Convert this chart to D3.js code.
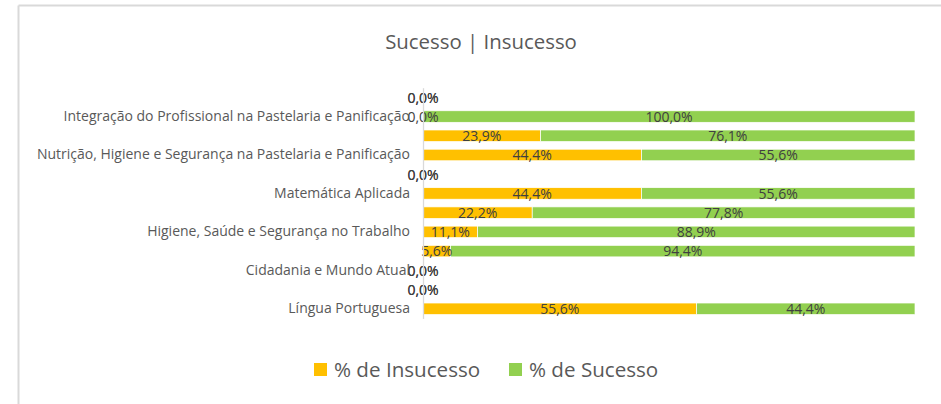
<!DOCTYPE html>
<html>
<head>
<meta charset="utf-8">
<script src="https://cdn.jsdelivr.net/npm/d3@7"></script>
<style>
  html, body { margin: 0; padding: 0; background: #fff; }
  svg { display: block; font-family: "Open Sans", sans-serif; }
</style>
</head>
<body>
<svg id="chart" width="941" height="404"></svg>
<script>
// Rows listed top to bottom; only every other category name is printed on the axis.
const rowLabels = [
  "",
  "Integração do Profissional na Pastelaria e Panificação",
  "",
  "Nutrição, Higiene e Segurança na Pastelaria e Panificação",
  "",
  "Matemática Aplicada",
  "",
  "Higiene, Saúde e Segurança no Trabalho",
  "",
  "Cidadania e Mundo Atual",
  "",
  "Língua Portuguesa"
];
const insucesso = [0, 0, 23.9, 44.4, 0, 44.4, 22.2, 11.1, 5.6, 0, 0, 55.6];
const sucesso   = [0, 100, 76.1, 55.6, 0, 55.6, 77.8, 88.9, 94.4, 0, 0, 44.4];
const seriesNames = ["% de Insucesso", "% de Sucesso"];
const seriesColors = ["#FFC000", "#92D050"];
const title = "Sucesso | Insucesso";

const svg = d3.select("#chart");
const W = 941, H = 404;

// outer frame (top and left edges visible)
svg.append("line").attr("x1", 18.5).attr("x2", W).attr("y1", 5.5).attr("y2", 5.5)
  .attr("stroke", "#d9d9d9").attr("stroke-width", 2);
svg.append("line").attr("x1", 18.5).attr("x2", 18.5).attr("y1", 5.5).attr("y2", H)
  .attr("stroke", "#d9d9d9").attr("stroke-width", 2);

svg.append("text").attr("x", 481).attr("y", 49).attr("text-anchor", "middle")
  .attr("fill", "#595959").attr("font-size", 20.4).text(title);

const plot = { left: 423, right: 915, top: 87.7, bottom: 318.4 };
const idx = d3.range(rowLabels.length);
const y = d3.scaleBand().domain(idx).range([plot.top, plot.bottom]).paddingInner(0.4).paddingOuter(0.2);
const x = d3.scaleLinear().domain([0, 100]).range([plot.left, plot.right]);

const fmt = v => d3.format(".1f")(v).replace(".", ",") + "%";

const stackData = idx.map(i => ({ i, a: insucesso[i], b: sucesso[i] }));
const stacked = d3.stack().keys(["a", "b"])(stackData);

const g = svg.append("g");
stacked.forEach((layer, k) => {
  g.append("g").selectAll("rect").data(layer).join("rect")
    .attr("x", d => x(d[0]))
    .attr("y", d => y(d.data.i))
    .attr("width", d => x(d[1]) - x(d[0]))
    .attr("height", y.bandwidth())
    .attr("fill", seriesColors[k])
    .attr("stroke", "#fff").attr("stroke-width", 0.7)
    .attr("display", d => d[1] - d[0] > 0 ? null : "none");
});

// category axis
const axis = d3.axisLeft(y).tickSize(0).tickPadding(13).tickFormat(i => rowLabels[i]);
const ax = svg.append("g").attr("transform", `translate(${plot.left},0)`).call(axis);
ax.select(".domain").attr("stroke", "#d9d9d9").attr("stroke-width", 1.3);
ax.selectAll("text").attr("fill", "#595959").attr("font-size", 14)
  .attr("font-family", "'Open Sans', sans-serif");

// data labels at segment centres
stacked.forEach(layer => {
  g.append("g").selectAll("text").data(layer).join("text")
    .attr("x", d => (x(d[0]) + x(d[1])) / 2)
    .attr("y", d => y(d.data.i) + y.bandwidth() / 2)
    .attr("dy", "0.38em")
    .attr("text-anchor", "middle")
    .attr("fill", "#404040").attr("font-size", 14)
    .text(d => fmt(d[1] - d[0]));
});

// legend
const leg = svg.append("g");
const legX = [314, 509];
seriesNames.forEach((n, k) => {
  leg.append("rect").attr("x", legX[k]).attr("y", 363).attr("width", 13).attr("height", 13)
    .attr("fill", seriesColors[k]);
  leg.append("text").attr("x", legX[k] + 20).attr("y", 377).attr("fill", "#595959")
    .attr("font-size", 20.6).text(n);
});
</script>
</body>
</html>
